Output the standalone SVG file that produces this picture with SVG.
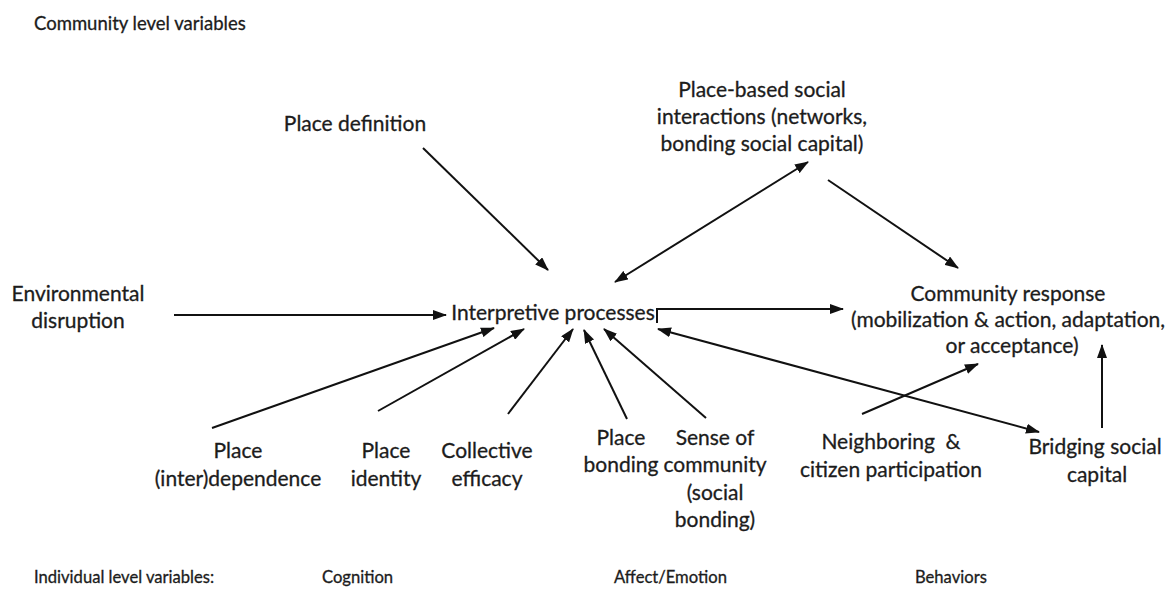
<svg xmlns="http://www.w3.org/2000/svg" width="1174" height="589" viewBox="0 0 1174 589">
  <style>
    text { font-family: Lato, "Liberation Sans", sans-serif; fill: #1c1c1c; stroke: #1c1c1c; stroke-width: 0.3; }
    .lbl { font-size: 21px; text-anchor: middle; }
    .hdr { font-size: 18.5px; }
    .sub { font-size: 16.6px; }
    .conn { stroke: #111; stroke-width: 2; fill: none; }
    .one { marker-end: url(#head); }
    .two { marker-start: url(#head); marker-end: url(#head); }
  </style>
  <defs>
    <marker id="head" viewBox="0 0 14 10" refX="13" refY="5" markerWidth="14" markerHeight="10" markerUnits="userSpaceOnUse" orient="auto-start-reverse">
      <path d="M0,0 L14,5 L0,10 Z" fill="#111"/>
    </marker>
  </defs>

  <rect width="1174" height="589" fill="#fff"/>

  <!-- level headings -->
  <g id="headings">
    <text class="hdr" x="34" y="30">Community level variables</text>
    <text class="sub" x="34" y="583">Individual level variables:</text>
    <text class="sub" x="322" y="583">Cognition</text>
    <text class="sub" x="614" y="583">Affect/Emotion</text>
    <text class="sub" x="915" y="583">Behaviors</text>
  </g>

  <g id="place-definition">
    <text class="lbl" x="355" y="131">Place definition</text>
  </g>

  <g id="place-based-interactions">
    <text class="lbl" x="762" y="97">Place-based social</text>
    <text class="lbl" x="762" y="124">interactions (networks,</text>
    <text class="lbl" x="762" y="151">bonding social capital)</text>
  </g>

  <g id="environmental-disruption">
    <text class="lbl" x="78" y="301">Environmental</text>
    <text class="lbl" x="78" y="328">disruption</text>
  </g>

  <g id="interpretive-processes">
    <text class="lbl" x="553" y="320">Interpretive processes</text>
  </g>

  <g id="community-response">
    <text class="lbl" x="1008" y="301">Community response</text>
    <text class="lbl" x="1008" y="327">(mobilization &amp; action, adaptation,</text>
    <text class="lbl" x="1012" y="353">or acceptance)</text>
  </g>

  <g id="place-interdependence">
    <text class="lbl" x="238" y="458">Place</text>
    <text class="lbl" x="238" y="486">(inter)dependence</text>
  </g>

  <g id="place-identity">
    <text class="lbl" x="386" y="458">Place</text>
    <text class="lbl" x="386" y="486">identity</text>
  </g>

  <g id="collective-efficacy">
    <text class="lbl" x="487" y="458">Collective</text>
    <text class="lbl" x="487" y="486">efficacy</text>
  </g>

  <g id="place-bonding">
    <text class="lbl" x="621" y="445">Place</text>
    <text class="lbl" x="621" y="472">bonding</text>
  </g>

  <g id="sense-of-community">
    <text class="lbl" x="715" y="445">Sense of</text>
    <text class="lbl" x="715" y="472">community</text>
    <text class="lbl" x="715" y="500">(social</text>
    <text class="lbl" x="715" y="527">bonding)</text>
  </g>

  <g id="neighboring">
    <text class="lbl" x="891" y="449" xml:space="preserve">Neighboring  &amp;</text>
    <text class="lbl" x="891" y="477">citizen participation</text>
  </g>

  <g id="bridging-capital">
    <text class="lbl" x="1095" y="454">Bridging social</text>
    <text class="lbl" x="1097" y="482">capital</text>
  </g>

  <!-- connectors -->
  <g id="connectors">
    <line class="conn one" x1="423" y1="148" x2="548" y2="270"/>
    <line class="conn two" x1="615" y1="282" x2="808" y2="162"/>
    <line class="conn one" x1="828" y1="180" x2="958" y2="268"/>
    <line class="conn one" x1="174" y1="315" x2="446" y2="315"/>
    <path class="conn one" d="M657,323 V309 H843"/>
    <line class="conn one" x1="212" y1="428" x2="494" y2="328"/>
    <line class="conn one" x1="378" y1="411" x2="524" y2="329"/>
    <line class="conn one" x1="508" y1="414" x2="573" y2="329"/>
    <line class="conn one" x1="627" y1="419" x2="584" y2="330"/>
    <line class="conn one" x1="706" y1="418" x2="604" y2="329"/>
    <line class="conn two" x1="1039" y1="432" x2="658" y2="329"/>
    <line class="conn one" x1="862" y1="414" x2="978" y2="364"/>
    <line class="conn one" x1="1102" y1="428" x2="1102" y2="345"/>
  </g>
</svg>
